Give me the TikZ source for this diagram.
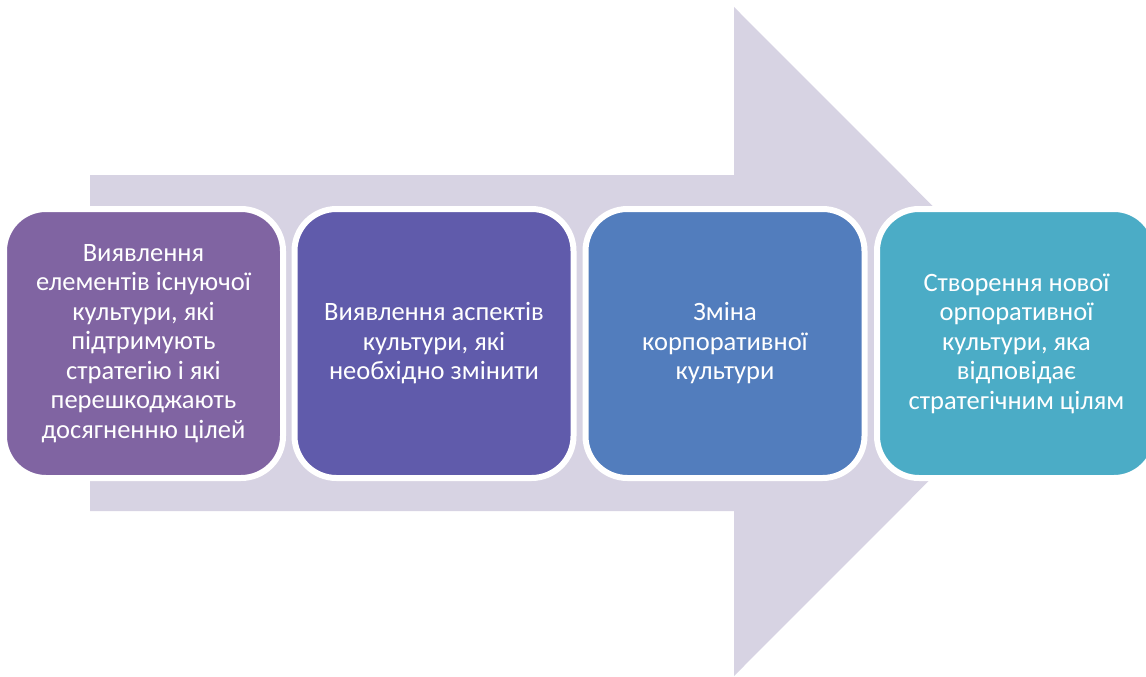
\documentclass[tikz,border=0pt]{standalone}
\usepackage{fontspec}
\setmainfont{Carlito}
\definecolor{arrowfill}{HTML}{D7D3E3}
\definecolor{stepA}{HTML}{8064A2}
\definecolor{stepB}{HTML}{605BAB}
\definecolor{stepC}{HTML}{527DBD}
\definecolor{stepD}{HTML}{4BACC6}
\tikzset{
  stagebox/.style={draw=white, line width=6pt, rounded corners=42pt,
    minimum width=279pt, minimum height=269pt, inner sep=0pt,
    text=white, align=center,
    font=\fontsize{26.5}{29.5}\selectfont},
}
\begin{document}
\begin{tikzpicture}[x=1pt,y=-1pt]
  \useasboundingbox (0,0) rectangle (1146,677);
  \clip (0,0) rectangle (1146,677);
  % big background arrow
  \fill[arrowfill] (90,175) -- (734,175) -- (734,7) -- (1068,341.5)
    -- (734,676) -- (734,511) -- (90,511) -- cycle;
  % process stages
  \node[stagebox, fill=stepA] (s1) at (143.5,343.5)
    {Виявлення\\елементів існуючої\\культури, які\\підтримують\\стратегію і які\\перешкоджають\\досягненню цілей};
  \node[stagebox, fill=stepB] (s2) at (434,343.5)
    {Виявлення аспектів\\культури, які\\необхідно змінити};
  \node[stagebox, fill=stepC] (s3) at (725,343.5)
    {Зміна\\корпоративної\\культури};
  \node[stagebox, fill=stepD] (s4) at (1016.5,343.5)
    {Створення нової\\орпоративної\\культури, яка\\відповідає\\стратегічним цілям};
\end{tikzpicture}
\end{document}
